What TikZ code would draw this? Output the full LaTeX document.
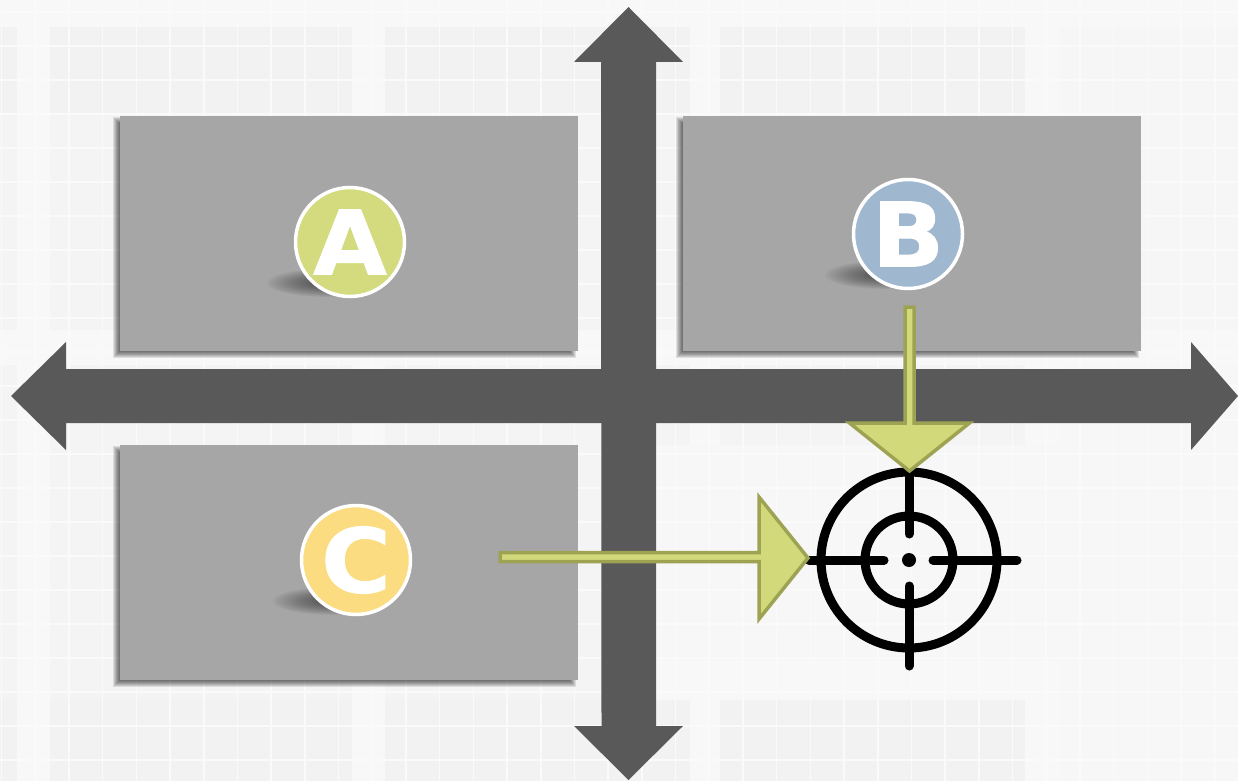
\documentclass[tikz,border=0pt]{standalone}
\usepackage{fontspec}
\setmainfont{DejaVu Sans}
\newfontfamily\badgefont{DejaVu Sans}[BoldFeatures={FakeStretch=1.07,FakeBold=1.0}]
\usetikzlibrary{calc}
\definecolor{bgbase}{HTML}{F8F8F8}
\definecolor{bgline}{HTML}{FAFAFA}
\definecolor{panel}{HTML}{A6A6A6}
\definecolor{axis}{HTML}{595959}
\definecolor{lime}{HTML}{D1D97A}
\definecolor{limeedge}{HTML}{9EA354}
\definecolor{badgeA}{HTML}{D3DB7E}
\definecolor{badgeB}{HTML}{A0B8CF}
\definecolor{badgeC}{HTML}{FCDC80}
\tikzset{
  x=1pt,y=-1pt,
  panelbox/.style={rectangle,draw=none,inner sep=0pt,outer sep=0pt,minimum width=458pt,minimum height=235pt},
  badge/.style={circle,draw=white,line width=3.5pt,inner sep=0pt,minimum size=109pt,text=white,font=\fontsize{89}{89}\badgefont\bfseries},
  axisarrow/.style={fill=axis,draw=none},
  limearrow/.style={fill=lime,draw=limeedge,line width=3.5pt,miter limit=10},
  ring/.style={circle,draw=black,line width=9pt,inner sep=0pt,fill=none},
  crossline/.style={draw=black,line width=9pt,line cap=round},
}
\newcommand{\myBoxShadow}[1]{%
  \foreach \d in {-4,-3,-2,-1,0,1,2,3,4}{%
    \fill[black,opacity=.1]
      ($(#1.north west)+(-3-\d,5-\d)$) rectangle ($(#1.south east)+(-6+\d,3+\d)$);
  }%
}
\newcommand{\myDiscShadow}[1]{%
  \foreach \f in {1,.95,.9,.85,.8,.75,.7,.65,.6,.55,.5,.45,.4,.35,.3,.25}{%
    \fill[black,opacity=.03] ($(#1)+(-23,41)$) ellipse ({60*\f} and {14*\f});
  }%
}
\begin{document}
\begin{tikzpicture}
\useasboundingbox (0,0) rectangle (1238,781);
% backdrop
\fill[bgbase] (0,0) rectangle (1238,781);
\foreach \tx/\tw in {0/17,50/302,385/305,720/305}{
  \fill[black!5] (\tx,27) rectangle ++(\tw,86);
  \fill[black!4.2] (\tx,113) rectangle ++(\tw,217);
  \fill[black!4.2] (\tx,365) rectangle ++(\tw,335);
  \fill[black!5] (\tx,700) rectangle ++(\tw,81);
}
\fill[black!3.6] (1060,27) rectangle (1238,330);
\fill[black!3.2] (1060,365) rectangle (1238,781);
\fill[black!3] (656,445) rectangle (1060,660);
\fill[black!2.6] (656,660) rectangle (1060,700);
\foreach \i in {0,...,36}{
  \draw[bgline,line width=1.6pt] ({1.5+33.7*\i},0) -- ({1.5+33.7*\i},781);
}
\foreach \i in {0,...,22}{
  \draw[bgline,line width=1.6pt] (0,{12+34*\i}) -- (1238,{12+34*\i});
}
% panels
\node[panelbox] (boxA) at (349,233.5) {};
\node[panelbox] (boxB) at (912,233.5) {};
\node[panelbox] (boxC) at (349,562.5) {};
\myBoxShadow{boxA}
\myBoxShadow{boxB}
\myBoxShadow{boxC}
\fill[panel] (boxA.north west) rectangle (boxA.south east);
\fill[panel] (boxB.north west) rectangle (boxB.south east);
\fill[panel] (boxC.north west) rectangle (boxC.south east);
% axes
\coordinate (axisL) at (11,396);
\coordinate (axisR) at (1238,396);
\coordinate (axisT) at (628.5,7);
\coordinate (axisB) at (628.5,780);
\fill[axisarrow] (axisL) -- ++(55,-54) -- ++(0,27) -- ($(axisR)+(-47,-27)$) -- ++(0,-27) -- (axisR)
  -- ++(-47,54) -- ++(0,-27) -- ($(axisL)+(55,27)$) -- ++(0,27) -- cycle;
\fill[axisarrow] (axisT) -- ++(54.5,55) -- ++(-27,0) -- ($(axisB)+(27.5,-54)$) -- ++(27,0) -- (axisB)
  -- ++(-54.5,-54) -- ++(27.5,0) -- ($(axisT)+(-27.5,55)$) -- ++(-27,0) -- cycle;
% badges
\coordinate (ca) at (350,242);
\coordinate (cb) at (908,234);
\coordinate (cc) at (356,560);
\myDiscShadow{ca}
\myDiscShadow{cb}
\myDiscShadow{cc}
\node[badge,fill=badgeA] (A) at (ca) {\raisebox{-3pt}{A}};
\node[badge,fill=badgeB] (B) at (cb) {\raisebox{-3pt}{B}};
\node[badge,fill=badgeC] (C) at (cc) {\raisebox{-3pt}{C}};
% target
\node[ring,minimum size=176pt] (target) at (909,560) {};
\node[ring,minimum size=88pt] (bull) at (target) {};
\fill[black] (target) circle (7);
\coordinate (tw) at ($(target)+(-100,0)$);
\coordinate (te) at ($(target)+(108,0)$);
\coordinate (tn) at ($(target)+(0,-88)$);
\coordinate (ts) at ($(target)+(0,106)$);
\draw[crossline] (tw) -- ($(target)+(-25,0)$);
\draw[crossline] ($(target)+(24,0)$) -- (te);
\draw[crossline] (tn) -- ($(target)+(0,-26)$);
\draw[crossline] ($(target)+(0,26)$) -- (ts);
% lime arrows
\coordinate (btail) at (909.5,307);
\coordinate (btip) at (909.5,471);
\coordinate (ctail) at (500,557);
\coordinate (ctip) at (808,558);
\draw[limearrow] ($(btail)+(-4.5,0)$) -- ($(btip)+(-4.5,-48)$) -- ($(btip)+(-60,-48)$) -- (btip)
  -- ($(btip)+(60,-48)$) -- ($(btip)+(4.5,-48)$) -- ($(btail)+(4.5,0)$) -- cycle;
\draw[limearrow] ($(ctail)+(0,-4.5)$) -- ($(ctip)+(-49,-5.5)$) -- ($(ctip)+(-49,-61)$) -- (ctip)
  -- ($(ctip)+(-49,61)$) -- ($(ctip)+(-49,3.5)$) -- ($(ctail)+(0,4.5)$) -- cycle;
\end{tikzpicture}
\end{document}
